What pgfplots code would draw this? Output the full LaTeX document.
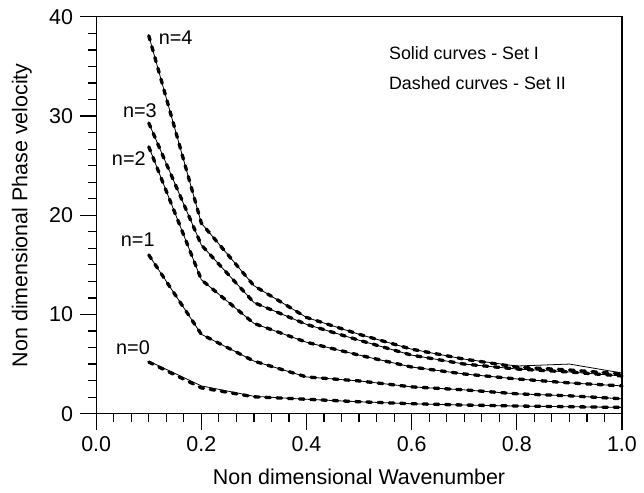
\documentclass[border=0pt]{standalone}
\usepackage{pgfplots}
\pgfplotsset{compat=1.18}
\usepackage{fontspec}
\setmainfont{Liberation Sans}
\begin{document}
\fontsize{16.2}{19}\selectfont
\begin{tikzpicture}
\begin{axis}[
  scale only axis,
  width=397.5pt, height=300pt,
  xmin=0, xmax=1, ymin=0, ymax=40,
  xtick={0,0.2,...,1.0},
  ytick={0,10,20,30,40},
  minor x tick num=5,
  minor y tick num=5,
  tick pos=left,
  tick align=outside,
  major tick length=12pt,
  minor tick length=6pt,
  every tick/.style={black, line width=0.9pt},
  axis line style={black, line width=0.9pt},
  xticklabel style={/pgf/number format/.cd, fixed, fixed zerofill, precision=1},
  /pgf/number format/assume math mode=true,
  xlabel={Non dimensional Wavenumber},
  ylabel={Non dimensional Phase velocity},
  xlabel style={yshift=-2pt},
  ylabel style={yshift=2pt},
  clip=false,
  solid/.style={black, line width=0.6pt},
  dsh/.style={black, line width=2.5pt, line cap=round, dash pattern=on 3.5pt off 5pt},
]
\path[use as bounding box] (rel axis cs:-0.183,-0.1825) rectangle (rel axis cs:1.032,1.0425);
% Solid curves (Set I)
\addplot[solid] coordinates {(0.1,5.3)(0.2,2.8)(0.3,1.75)(0.4,1.45)(0.5,1.2)(0.6,1.0)(0.7,0.87)(0.8,0.77)(0.9,0.7)(1.0,0.63)};
\addplot[solid] coordinates {(0.1,16.0)(0.2,8.0)(0.3,5.3)(0.4,3.7)(0.5,3.3)(0.6,2.7)(0.7,2.4)(0.8,2.0)(0.9,1.8)(1.0,1.5)};
\addplot[solid] coordinates {(0.1,26.9)(0.2,13.5)(0.3,9.1)(0.4,7.2)(0.5,5.9)(0.6,4.7)(0.7,4.0)(0.8,3.5)(0.9,3.1)(1.0,2.8)};
\addplot[solid] coordinates {(0.1,29.3)(0.2,17.0)(0.3,11.2)(0.4,9.0)(0.5,7.4)(0.6,5.9)(0.7,5.0)(0.8,4.5)(0.9,4.2)(1.0,3.8)};
\addplot[solid] coordinates {(0.1,38.1)(0.2,19.2)(0.3,12.9)(0.4,9.7)(0.5,8.0)(0.6,6.5)(0.7,5.5)(0.8,4.8)(0.9,5.0)(1.0,4.1)};
% Dashed curves (Set II)
\addplot[dsh] coordinates {(0.1,5.2)(0.2,2.6)(0.3,1.7)(0.4,1.45)(0.5,1.2)(0.6,1.0)(0.7,0.87)(0.8,0.77)(0.9,0.7)(1.0,0.63)};
\addplot[dsh] coordinates {(0.1,16.0)(0.2,8.0)(0.3,5.3)(0.4,3.7)(0.5,3.3)(0.6,2.7)(0.7,2.4)(0.8,2.0)(0.9,1.8)(1.0,1.5)};
\addplot[dsh] coordinates {(0.1,26.9)(0.2,13.5)(0.3,9.1)(0.4,7.2)(0.5,5.9)(0.6,4.7)(0.7,4.0)(0.8,3.5)(0.9,3.1)(1.0,2.8)};
\addplot[dsh] coordinates {(0.1,29.3)(0.2,17.0)(0.3,11.2)(0.4,9.0)(0.5,7.4)(0.6,5.9)(0.7,5.0)(0.8,4.5)(0.9,4.2)(1.0,3.8)};
\addplot[dsh] coordinates {(0.1,38.1)(0.2,19.2)(0.3,12.9)(0.4,9.7)(0.5,8.0)(0.6,6.5)(0.7,5.5)(0.8,4.7)(0.9,4.4)(1.0,4.0)};
% Labels
\node[font=\fontsize{15}{17}\selectfont] at (axis cs:0.151,37.9) {n=4};
\node[font=\fontsize{15}{17}\selectfont] at (axis cs:0.083,30.5) {n=3};
\node[font=\fontsize{15}{17}\selectfont] at (axis cs:0.062,25.7) {n=2};
\node[font=\fontsize{15}{17}\selectfont] at (axis cs:0.079,17.5) {n=1};
\node[font=\fontsize{15}{17}\selectfont] at (axis cs:0.07,6.7) {n=0};
\node[anchor=west, font=\fontsize{13.5}{15}\selectfont] at (axis cs:0.543,36.3) {Solid curves - Set I};
\node[anchor=west, font=\fontsize{13.5}{15}\selectfont] at (axis cs:0.543,33.3) {Dashed curves - Set II};
\end{axis}
\end{tikzpicture}
\end{document}
